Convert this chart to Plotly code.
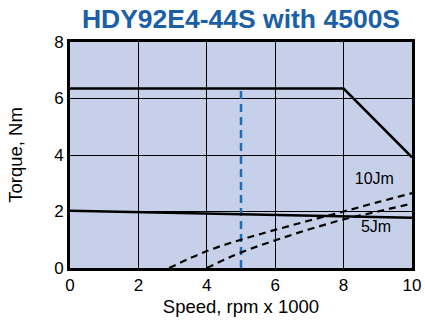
import plotly.graph_objects as go

title = "HDY92E4-44S with 4500S"
peak_x = [0, 8, 10]
peak_y = [6.35, 6.35, 3.92]
cont_x = [0, 10]
cont_y = [2.03, 1.78]
load10_x = [2.9, 4, 5, 6, 7, 8, 9, 10]
load10_y = [0, 0.6, 1.0, 1.35, 1.68, 2.0, 2.33, 2.65]
load5_x = [4, 5, 6, 7, 8, 9, 10]
load5_y = [0, 0.55, 0.98, 1.37, 1.72, 2.0, 2.28]
op_x = [5, 5]
op_y = [0, 6.3]
labels = ["10Jm", "5Jm"]
label_x = [8.9, 8.95]
label_y = [3.1, 1.4]

FONT = "Liberation Sans, Arial, sans-serif"

fig = go.Figure()
fig.add_trace(go.Scatter(x=op_x, y=op_y, mode="lines",
                         line=dict(color="#1f6db5", width=2.5, dash="8px,5px")))
fig.add_trace(go.Scatter(x=peak_x, y=peak_y, mode="lines",
                         line=dict(color="black", width=2.5)))
fig.add_trace(go.Scatter(x=cont_x, y=cont_y, mode="lines",
                         line=dict(color="black", width=2.5)))
fig.add_trace(go.Scatter(x=load10_x, y=load10_y, mode="lines", line_shape="spline",
                         line=dict(color="black", width=2.2, dash="7px,5px")))
fig.add_trace(go.Scatter(x=load5_x, y=load5_y, mode="lines", line_shape="spline",
                         line=dict(color="black", width=2.2, dash="7px,5px")))
fig.add_trace(go.Scatter(x=label_x, y=label_y, mode="text", text=labels,
                         textfont=dict(family=FONT, size=16, color="black")))

fig.update_layout(
    width=425, height=331,
    margin=dict(l=70, r=13, t=42, b=63),
    paper_bgcolor="white",
    plot_bgcolor="#c6d0e8",
    showlegend=False,
    font=dict(family=FONT, size=17, color="black"),
    title=dict(text="<b>" + title + "</b>", x=0.567, xanchor="center",
               y=0.97, yanchor="top",
               font=dict(size=26.5, color="#1a5fa8")),
)
fig.update_xaxes(range=[0, 10], tickvals=[0, 2, 4, 6, 8, 10], showgrid=True,
                 gridcolor="black", gridwidth=1, zeroline=False,
                 showline=True, linecolor="black", linewidth=3, mirror=True,
                 ticks="", ticklen=0, automargin=False,
                 tickfont=dict(size=17),
                 title=dict(text="Speed, rpm x 1000", font=dict(size=18.5), standoff=6))
fig.update_yaxes(range=[0, 8], tickvals=[0, 2, 4, 6, 8], showgrid=True,
                 gridcolor="black", gridwidth=1, zeroline=False,
                 showline=True, linecolor="black", linewidth=3, mirror=True,
                 ticks="", ticklen=0, automargin=False,
                 tickfont=dict(size=17),
                 title=dict(text="Torque, Nm", font=dict(size=18.5), standoff=27))

fig.write_html("out.html")
